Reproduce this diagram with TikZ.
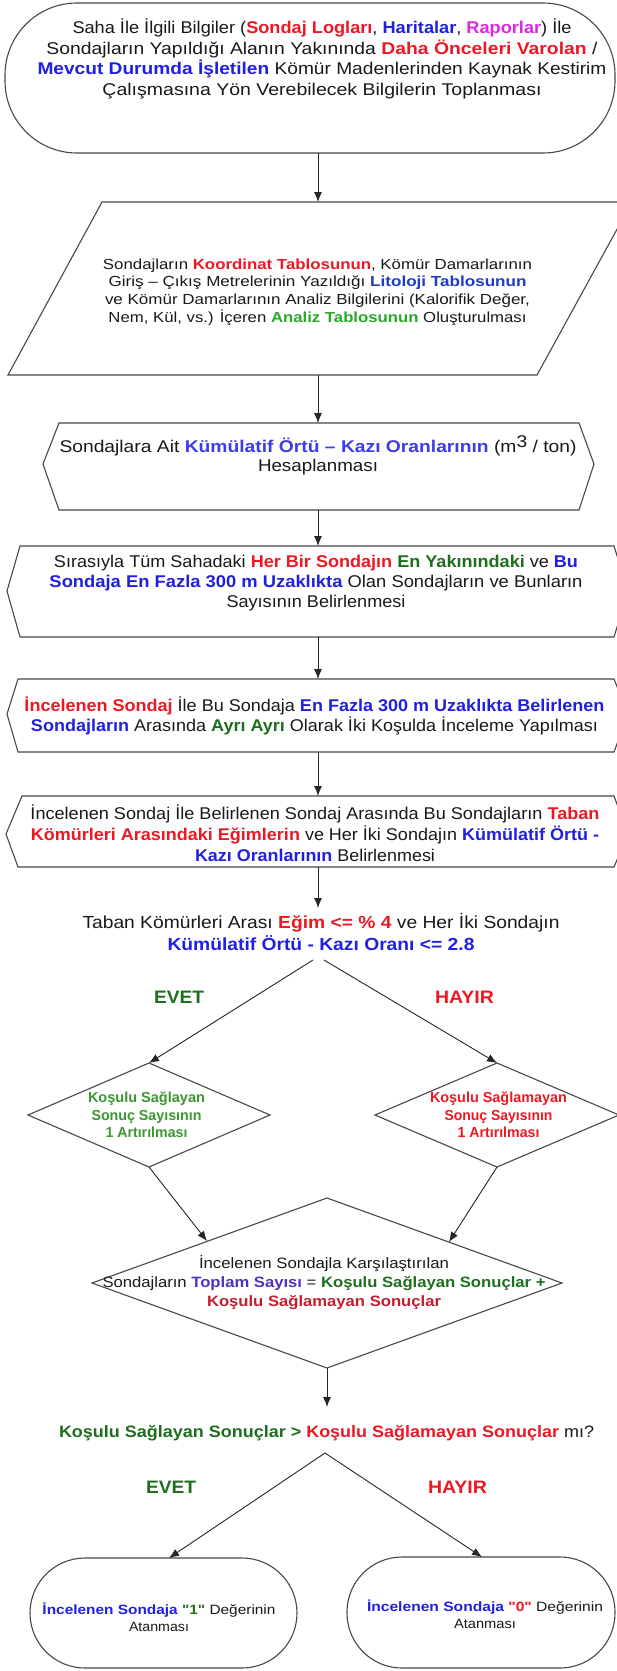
\documentclass[tikz,border=0pt]{standalone}
\usepackage{graphicx}
\usepackage{fontspec}
\setmainfont{Liberation Sans}
\newfontfamily\qf{Liberation Sans}
\usetikzlibrary{arrows.meta}
\definecolor{cR}{RGB}{236,24,36}
\definecolor{cB}{RGB}{32,32,225}
\definecolor{cM}{RGB}{222,40,222}
\definecolor{cG}{RGB}{40,170,40}
\definecolor{cDG}{RGB}{30,110,30}
\definecolor{cLG}{RGB}{60,150,50}
\definecolor{cLB}{RGB}{30,60,200}
\definecolor{cKB}{RGB}{60,60,232}
\definecolor{cPB}{RGB}{80,50,190}
\definecolor{cDR}{RGB}{195,30,45}
\definecolor{cEdge}{RGB}{72,72,72}
\newcommand{\myR}[1]{\textbf{\color{cR}#1}}
\newcommand{\myB}[1]{\textbf{\color{cB}#1}}
\newcommand{\myM}[1]{\textbf{\color{cM}#1}}
\newcommand{\myG}[1]{\textbf{\color{cG}#1}}
\newcommand{\myDG}[1]{\textbf{\color{cDG}#1}}
\newcommand{\myLB}[1]{\textbf{\color{cLB}#1}}
\newcommand{\myKB}[1]{\textbf{\color{cKB}#1}}
\newcommand{\myPB}[1]{\textbf{\color{cPB}#1}}
\newcommand{\myDR}[1]{\textbf{\color{cDR}#1}}
\newcommand{\dq}{{\qf\symbol{34}}}
% scale one line of text horizontally to a given width (in pt)
\newlength{\fitlen}
\newcommand{\fitline}[2]{%
  \settowidth{\fitlen}{#2}%
  \pgfmathsetmacro{\fitratio}{#1/\fitlen}%
  \scalebox{\fitratio}[1]{#2}}
\tikzset{
  shapebox/.style={draw=cEdge, line width=1.1pt, line join=miter},
  conn/.style={draw=black!85, line width=0.9pt, -{Latex[length=10pt,width=8pt]}},
  txt/.style={inner sep=0pt, align=center, text=black!90},
}
\begin{document}
\begin{tikzpicture}[x=1pt,y=-1pt]
\useasboundingbox (0,0) rectangle (617,1671);
\fill[white] (0,0) rectangle (617,1671);

% ---------- shapes ----------
\draw[shapebox, rounded corners=72pt] (5,3) rectangle (615,153);
\draw[shapebox] (102,202) -- (632,202) -- (537,375) -- (8,375) -- cycle;
\draw[shapebox] (59,423) -- (579,423) -- (594,464) -- (579,510) -- (59,510) -- (43,464) -- cycle;
\draw[shapebox] (20,546) -- (614,546) -- (628,591) -- (614,637) -- (20,637) -- (7,591) -- cycle;
\draw[shapebox] (18,679) -- (614,679) -- (628,714) -- (614,752) -- (18,752) -- (7,714) -- cycle;
\draw[shapebox] (22,796) -- (614,796) -- (628,834) -- (614,867) -- (18,867) -- (6,834) -- cycle;
\draw[shapebox] (149,1063) -- (270,1115) -- (149,1167) -- (28,1115) -- cycle;
\draw[shapebox] (497,1063) -- (619,1115) -- (497,1167) -- (375,1115) -- cycle;
\draw[shapebox] (327,1198) -- (562,1283) -- (327,1368) -- (92,1283) -- cycle;
\draw[shapebox, rounded corners=55pt] (30,1558) rectangle (297,1668);
\draw[shapebox, rounded corners=55pt] (347,1557) rectangle (615,1668);

% ---------- named anchor points ----------
\coordinate (s1b) at (318,153);
\coordinate (s2t) at (318,202);
\coordinate (s2b) at (318,375);
\coordinate (s3t) at (318,423);
\coordinate (s3b) at (318,510);
\coordinate (s4t) at (318,546);
\coordinate (s4b) at (318,637);
\coordinate (s5t) at (318,679);
\coordinate (s5b) at (318,752);
\coordinate (s6t) at (318,796);
\coordinate (s6b) at (318,867);
\coordinate (q1t) at (318,908);
\coordinate (q1l) at (313,960);
\coordinate (q1r) at (324,960);
\coordinate (dLt) at (149,1063);
\coordinate (dRt) at (497,1063);
\coordinate (dLb) at (149,1167);
\coordinate (dRb) at (497,1167);
\coordinate (bdL) at (207,1241);
\coordinate (bdR) at (449,1242);
\coordinate (bdb) at (327,1368);
\coordinate (q2t) at (327,1407);
\coordinate (q2a) at (325,1453);
\coordinate (eLt) at (169,1558);
\coordinate (eRt) at (482,1557);

% ---------- texts ----------
\node[txt, font={\fontsize{17}{20.5}\selectfont}] (t1) at (322,59)
 {\fitline{499}{Saha İle İlgili Bilgiler (\myR{Sondaj Logları}, \myB{Haritalar}, \myM{Raporlar}) İle}\\
  \fitline{551}{Sondajların Yapıldığı Alanın Yakınında \myR{Daha Önceleri Varolan} /}\\
  \fitline{569}{\myB{Mevcut Durumda İşletilen} Kömür Madenlerinden Kaynak Kestirim}\\
  \fitline{439}{Çalışmasına Yön Verebilecek Bilgilerin Toplanması}};

\node[txt, font={\fontsize{14.6}{17.6}\selectfont}] (t2) at (317.5,292)
 {\fitline{429}{Sondajların \myR{Koordinat Tablosunun}, Kömür Damarlarının}\\
  \fitline{418}{Giriş – Çıkış Metrelerinin Yazıldığı \myLB{Litoloji Tablosunun}}\\
  \fitline{425}{ve Kömür Damarlarının Analiz Bilgilerini (Kalorifik Değer,}\\
  \fitline{418}{Nem, Kül, vs.) İçeren \myG{Analiz Tablosunun} Oluşturulması}};

\node[txt, font={\fontsize{17}{19}\selectfont}] (t3) at (318,455)
 {\fitline{517}{Sondajlara Ait \myKB{Kümülatif Örtü – Kazı Oranlarının} (m\raisebox{5pt}{3} / ton)}\\
  \fitline{120}{Hesaplanması}};

\node[txt, font={\fontsize{17}{20}\selectfont}] (t4) at (316,583)
 {\fitline{524}{Sırasıyla Tüm Sahadaki \myR{Her Bir Sondajın} \myDG{En Yakınındaki} ve \myB{Bu}}\\
  \fitline{533}{\myB{Sondaja En Fazla 300 m Uzaklıkta} Olan Sondajların ve Bunların}\\
  \fitline{179}{Sayısının Belirlenmesi}};

\node[txt, font={\fontsize{17}{20}\selectfont}] (t5) at (314.5,716)
 {\fitline{580}{\myR{İncelenen Sondaj} İle Bu Sondaja \myB{En Fazla 300 m Uzaklıkta Belirlenen}}\\
  \fitline{567}{\myB{Sondajların} Arasında \myDG{Ayrı Ayrı} Olarak İki Koşulda İnceleme Yapılması}};

\node[txt, font={\fontsize{17}{21}\selectfont}] (t6) at (315,833)
 {\fitline{569}{İncelenen Sondaj İle Belirlenen Sondaj Arasında Bu Sondajların \myR{Taban}}\\
  \fitline{568}{\myR{Kömürleri Arasındaki Eğimlerin} ve Her İki Sondajın \myB{Kümülatif Örtü -}}\\
  \fitline{240}{\myB{Kazı Oranlarının} Belirlenmesi}};

\node[txt, font={\fontsize{17.5}{22}\selectfont}] (q1) at (321,932)
 {\fitline{477}{Taban Kömürleri Arası \myR{Eğim <= \% 4} ve Her İki Sondajın}\\
  \fitline{307}{\myB{Kümülatif Örtü - Kazı Oranı <= 2.8}}};

\node[txt, font={\bfseries\fontsize{18}{20}\selectfont}, text=cDG] (y1) at (179,997) {\fitline{50}{EVET}};
\node[txt, font={\bfseries\fontsize{18}{20}\selectfont}, text=cR] (n1) at (464.5,997) {\fitline{59}{HAYIR}};

\node[txt, font={\bfseries\fontsize{14.5}{17.5}\selectfont}, text=cLG] (dL) at (146.5,1115)
 {\fitline{117}{Koşulu Sağlayan}\\\fitline{110}{Sonuç Sayısının}\\\fitline{82}{1 Artırılması}};
\node[txt, font={\bfseries\fontsize{14.5}{17.5}\selectfont}, text=cR] (dR) at (498.5,1115)
 {\fitline{137}{Koşulu Sağlamayan}\\\fitline{108}{Sonuç Sayısının}\\\fitline{82}{1 Artırılması}};

\node[txt, font={\fontsize{15}{19}\selectfont}] (bd) at (324,1283)
 {\fitline{250}{İncelenen Sondajla Karşılaştırılan}\\
  \fitline{443}{Sondajların \myPB{Toplam Sayısı} = \myDG{Koşulu Sağlayan Sonuçlar +}}\\
  \fitline{234}{\myDR{Koşulu Sağlamayan Sonuçlar}}};

\node[txt, font={\fontsize{16.5}{19}\selectfont}] (q2) at (326.5,1433)
 {\fitline{535}{\myDG{Koşulu Sağlayan Sonuçlar >} \myR{Koşulu Sağlamayan Sonuçlar} mı?}};

\node[txt, font={\bfseries\fontsize{18}{20}\selectfont}, text=cDG] (y2) at (171,1487) {\fitline{50}{EVET}};
\node[txt, font={\bfseries\fontsize{18}{20}\selectfont}, text=cR] (n2) at (457.5,1487) {\fitline{59}{HAYIR}};

\node[txt, font={\fontsize{13.5}{17}\selectfont}] (eL) at (159,1617)
 {\fitline{233}{\myB{İncelenen Sondaja} \myDG{\dq 1\dq} Değerinin}\\\fitline{60}{Atanması}};
\node[txt, font={\fontsize{13.5}{17}\selectfont}] (eR) at (485,1614)
 {\fitline{236}{\myB{İncelenen Sondaja} \myR{\dq 0\dq} Değerinin}\\\fitline{62}{Atanması}};

% ---------- connectors ----------
\draw[conn] (s1b) -- (s2t);
\draw[conn] (s2b) -- (s3t);
\draw[conn] (s3b) -- (s4t);
\draw[conn] (s4b) -- (s5t);
\draw[conn] (s5b) -- (s6t);
\draw[conn] (s6b) -- (q1t);
\draw[conn] (q1l) -- (dLt);
\draw[conn] (q1r) -- (dRt);
\draw[conn] (dLb) -- (bdL);
\draw[conn] (dRb) -- (bdR);
\draw[conn] (bdb) -- (q2t);
\draw[conn] (q2a) -- (eLt);
\draw[conn] (q2a) -- (eRt);
\end{tikzpicture}
\end{document}
